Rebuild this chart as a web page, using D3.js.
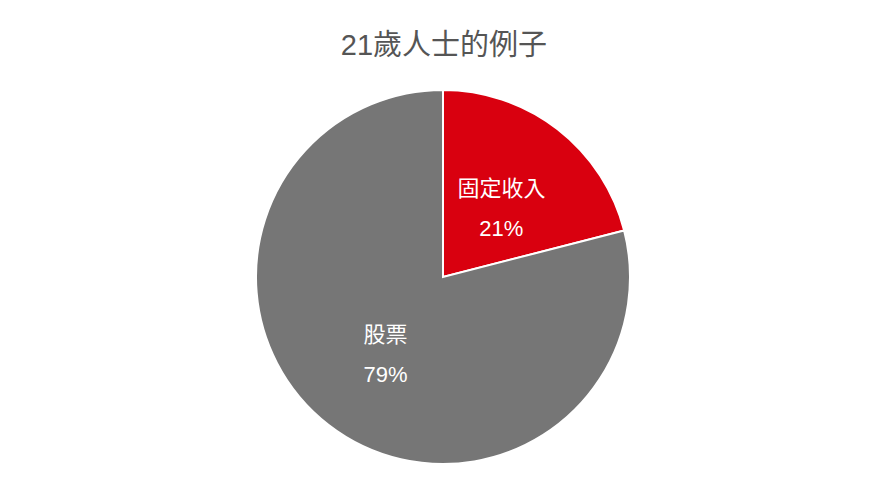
<!DOCTYPE html>
<html>
<head>
<meta charset="utf-8">
<script src="https://cdn.jsdelivr.net/npm/d3@7"></script>
<style>
  body { margin: 0; background: #fff; }
  text { font-family: "Liberation Sans", "Noto Sans CJK TC", sans-serif; }
</style>
</head>
<body>
<div id="chart"></div>
<script>
// chart data
var categories = ['固定收入', '股票'];
var values = [21, 79];
var colors = ['#d9000f', '#767676'];
var title = '21歲人士的例子';

var svgWidth = 889;
var svgHeight = 500;
var cx = 443;
var cy = 277;
var radius = 187;

var svg = d3.select('#chart')
    .append('svg')
    .attr('width', svgWidth)
    .attr('height', svgHeight);

// title
svg.append('text')
    .attr('x', 444)
    .attr('y', 55)
    .attr('text-anchor', 'middle')
    .attr('font-size', 29)
    .attr('fill', '#555')
    .text(title);

var data = categories.map((c, i) => ({name: c, value: values[i], color: colors[i]}));

var pie = d3.pie()
    .sort(null)
    .value(d => d.value);

var arc = d3.arc()
    .innerRadius(0)
    .outerRadius(radius);

var labelArc = d3.arc()
    .innerRadius(184)
    .outerRadius(0);

var g = svg.append('g')
    .attr('transform', `translate(${cx},${cy})`);

var slices = g.selectAll('.slice')
    .data(pie(data))
    .enter()
    .append('g')
    .attr('class', 'slice');

slices.append('path')
    .attr('d', arc)
    .attr('fill', d => d.data.color)
    .attr('stroke', '#fff')
    .attr('stroke-width', 2);

// labels: name and percent
slices.each(function(d, i) {
    var c = labelArc.centroid(d);
    var sel = d3.select(this);
    var dx = i === 0 ? 2 : -1;
    sel.append('text')
        .attr('x', c[0] + dx)
        .attr('y', c[1] - 8)
        .attr('text-anchor', 'middle')
        .attr('font-size', 22)
        .attr('fill', '#fff')
        .text(d.data.name);
    sel.append('text')
        .attr('x', c[0] + dx)
        .attr('y', c[1] + 32)
        .attr('text-anchor', 'middle')
        .attr('font-size', 22)
        .attr('fill', '#fff')
        .text(d.data.value + '%');
});
</script>
</body>
</html>
